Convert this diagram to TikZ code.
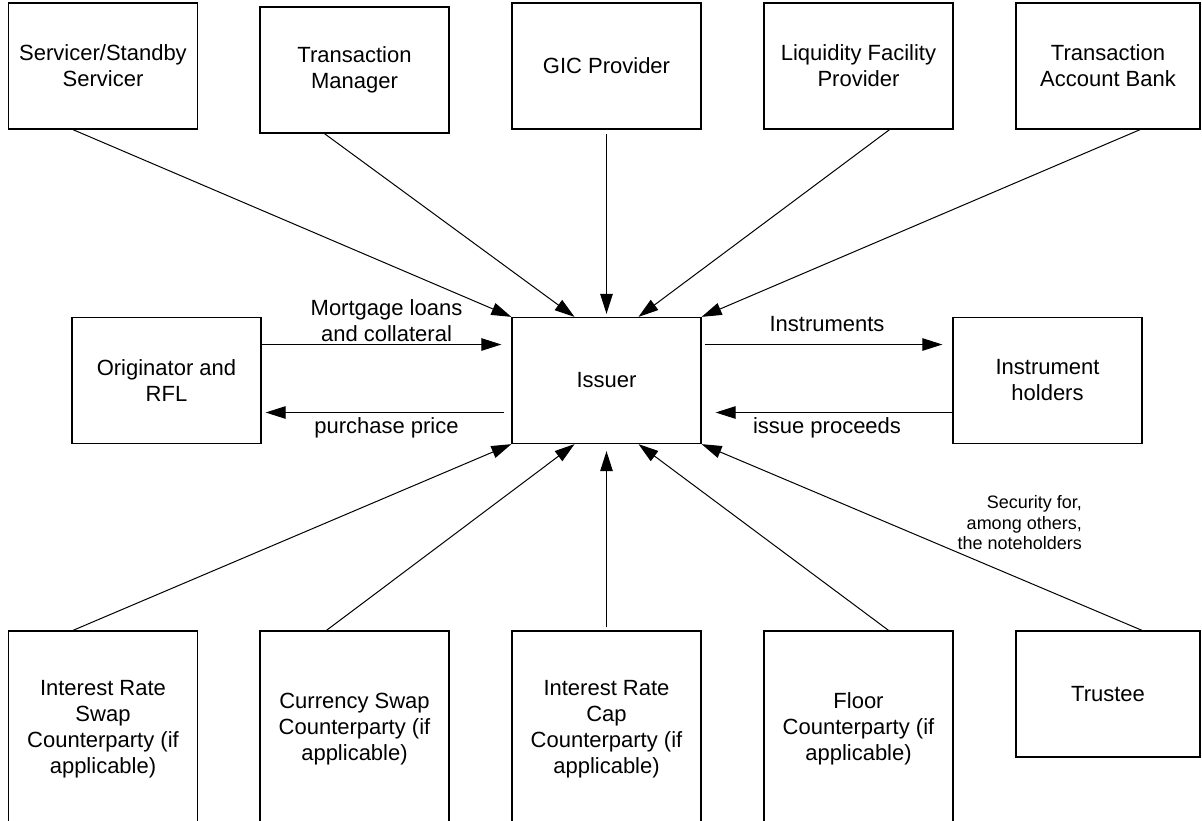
\documentclass[tikz,border=0pt]{standalone}
\usepackage{fontspec}
\setmainfont{Liberation Sans}
\usetikzlibrary{arrows.meta,scopes}

\begin{document}
\begin{tikzpicture}[
    x=1pt,y=-1pt,
    party/.style={draw=black,line width=1.3pt,minimum width=189pt,minimum height=126pt,
        align=center,inner sep=0pt,font=\fontsize{22}{26}\selectfont},
    tall/.style={party,minimum height=196pt},
    flow/.style={>={Triangle[length=20pt,width=12.5pt]},line width=1pt},
    lbl/.style={font=\fontsize{22}{26}\selectfont,align=center,inner sep=0pt},
    note/.style={font=\fontsize{18}{20.5}\selectfont,align=right,inner sep=0pt}
]
    \useasboundingbox (0,0) rectangle (1202,820);
    \clip (0,0) rectangle (1202,820);

    % top row
    \node[party] (serv) at (103,66) {Servicer/Standby\\Servicer};
    \node[party] (tman) at (354.5,70) {Transaction\\Manager};
    \node[party] (gic) at (606.5,66) {GIC Provider};
    \node[party] (liq) at (858.5,66) {Liquidity Facility\\Provider};
    \node[party,minimum width=184pt] (tab) at (1108,66) {Transaction\\Account Bank};

    % middle row
    \node[party] (orig) at (166.5,380.5) {Originator and\\RFL};
    \node[party] (iss) at (606.5,380.5) {Issuer};
    \node[party] (hold) at (1047.5,380.5) {Instrument\\holders};

    % bottom row
    \node[tall] (irs) at (103,729) {Interest Rate\\Swap\\Counterparty (if\\applicable)};
    \node[tall] (ccy) at (354.5,729) {Currency Swap\\Counterparty (if\\applicable)};
    \node[tall] (cap) at (606.5,729) {Interest Rate\\Cap\\Counterparty (if\\applicable)};
    \node[tall] (flr) at (858.5,729) {Floor\\Counterparty (if\\applicable)};
    \node[party,minimum width=184pt] (trus) at (1108,694) {Trustee};

    {[flow,->]
        \draw ([xshift=-30pt]serv.south) -- (iss.north west);
        \draw ([xshift=-30pt]tman.south) -- ([xshift=-32pt]iss.north);
        \draw[shorten <=4pt,shorten >=3pt] (gic.south) -- (iss.north);
        \draw ([xshift=31pt]liq.south) -- ([xshift=32pt]iss.north);
        \draw ([xshift=32pt]tab.south) -- (iss.north east);

        \draw ([xshift=-30pt]irs.north) -- (iss.south west);
        \draw ([xshift=-28pt]ccy.north) -- ([xshift=-32pt]iss.south);
        \draw[shorten <=3pt,shorten >=7pt] (cap.north) -- (iss.south);
        \draw ([xshift=30pt]flr.north) -- ([xshift=32pt]iss.south);
        \draw ([xshift=34pt]trus.north) -- (iss.south east);

        \draw[shorten >=10pt] ([yshift=36pt]orig.east) -- ([yshift=36pt]iss.west)
            node[lbl,midway,above=2pt] (mort) {Mortgage loans\\and collateral};
        \draw[shorten <=7pt,shorten >=4pt] ([yshift=-32pt]iss.west) -- ([yshift=-32pt]orig.east)
            node[lbl,midway,below=5pt] (price) {purchase price};
        \draw[shorten <=3pt,shorten >=10pt] ([yshift=36pt]iss.east) -- ([yshift=36pt]hold.west)
            node[lbl,midway,above=12pt] (instr) {Instruments};
        \draw[shorten >=14pt] ([yshift=-32pt]hold.west) -- ([yshift=-32pt]iss.east)
            node[lbl,midway,below=5pt] (proc) {issue proceeds};
    }
    \node[note,anchor=east] (sec) at (1082,523) {Security for,\\among others,\\the noteholders};
\end{tikzpicture}
\end{document}
